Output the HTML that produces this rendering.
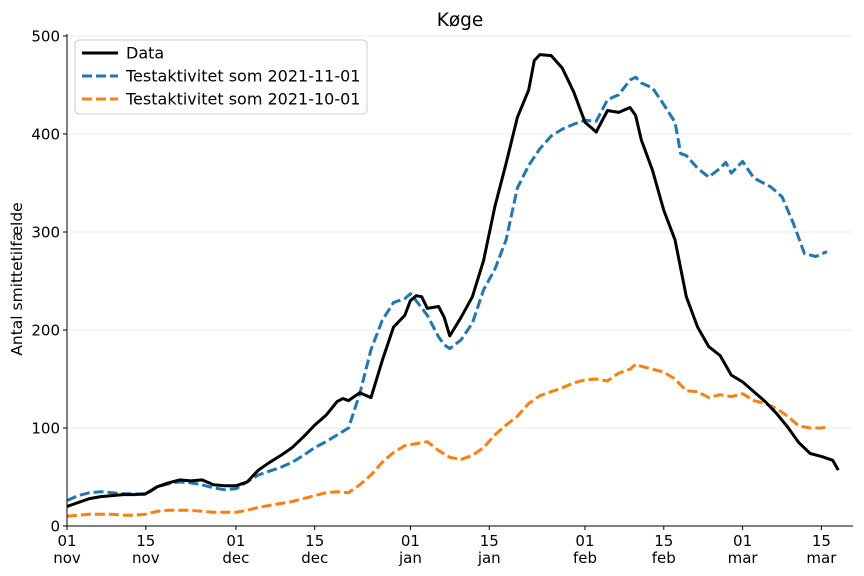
<!DOCTYPE html>
<html><head><meta charset="utf-8"><style>
html,body{margin:0;padding:0;background:#fff}
svg{display:block;font-family:"DejaVu Sans","Liberation Sans",sans-serif}
</style></head><body>
<svg id="chart" width="864" height="576" viewBox="0 0 864 576">
<g id="grid"></g>
<g id="series"></g>
<g id="axes"></g>
<text x="460" y="26" text-anchor="middle" font-size="18.5">Køge</text>
<text transform="translate(22,279) rotate(-90)" text-anchor="middle" font-size="15.5">Antal smittetilfælde</text>
<g>
<rect x="75" y="40" width="292" height="74" rx="4" fill="#fff" fill-opacity="0.8" stroke="#ccc"/>
<line x1="82" y1="53" x2="118" y2="53" stroke="#000" stroke-width="3"/>
<text x="126" y="58.5" font-size="16">Data</text>
<line x1="82" y1="76" x2="118" y2="76" stroke="#1f77b4" stroke-width="3" stroke-dasharray="10,4"/>
<text x="126" y="81.5" font-size="16">Testaktivitet som 2021-11-01</text>
<line x1="82" y1="99" x2="118" y2="99" stroke="#ff7f0e" stroke-width="3" stroke-dasharray="10,4"/>
<text x="126" y="104.5" font-size="16">Testaktivitet som 2021-10-01</text>
</g>
</svg>
<script>
const dataDays=[0,2,4,6,8,10,12,14,16,18,20,22,24,26,28,30,32,34,36,38,40,42,44,46,48,49,50,52,54,56,58,60,61,62,63,64,66,67,68,70,72,74,76,78,80,82,83,84,86,88,90,92,94,96,98,100,101,102,104,106,108,110,112,114,116,118,120,122,124,126,128,130,132,134,136,137];
const dataVals=[20,24,28,30,31,32,32,33,40,44,47,46,47,42,41,41,45,57,65,72,80,91,103,113,127,130,128,136,131,169,203,215,230,235,234,222,224,213,194,213,234,271,326,370,417,445,475,481,480,467,443,412,402,424,422,427,419,394,363,322,292,234,203,183,174,154,147,137,127,115,101,85,74,71,67,57];
const novDays=[0,2,4,6,8,10,12,14,16,18,20,22,24,26,28,30,32,34,36,38,40,42,44,46,48,50,52,54,56,58,60,61,62,64,66,67,68,70,72,74,76,78,80,82,84,86,88,90,92,94,96,98,100,101,102,104,106,108,109,110,112,114,116,117,118,120,122,125,127,129,131,133,135];
const novVals=[26,31,34,35,34,33,33,32,40,43,45,44,42,39,37,38,45,52,56,60,65,72,80,86,93,100,135,180,210,228,232,237,230,215,193,185,181,190,207,241,262,292,345,368,385,398,405,410,414,413,435,440,455,458,452,447,430,412,380,378,365,356,365,371,360,372,355,346,336,309,278,275,280];
const octDays=[0,2,4,6,8,10,12,14,16,18,20,22,24,26,28,30,32,34,36,38,40,42,44,46,48,50,52,54,56,58,60,62,64,66,68,70,72,74,76,78,80,82,84,86,88,90,92,94,96,98,100,101,102,104,106,108,110,112,114,116,118,120,122,124,126,128,130,132,134,135];
const octVals=[10,11,12,12,12,11,11,12,15,16,16,16,15,14,14,14,16,19,21,23,25,28,31,34,35,34,42,52,65,75,82,84,86,77,70,68,72,80,93,103,112,125,133,137,141,146,149,150,148,156,160,165,163,160,157,150,138,137,131,134,132,135,128,125,120,112,102,100,100,101];
const yTicks=[0,100,200,300,400,500];
const xTickDays=[0,14,30,44,61,75,92,106,120,134];
const xTickTop=["01","15","01","15","01","15","01","15","01","15"];
const xTickBot=["nov","nov","dec","dec","jan","jan","feb","feb","mar","mar"];

const L=67,R=853,T=36,B=526;
const xs=d=>L+d*5.63;
const ys=v=>B-(v/500)*(B-T);
const NS="http://www.w3.org/2000/svg";
function mk(tag,attrs,parent){const e=document.createElementNS(NS,tag);for(const k in attrs)e.setAttribute(k,attrs[k]);parent.appendChild(e);return e;}
const grid=document.getElementById('grid'),axes=document.getElementById('axes'),ser=document.getElementById('series');
yTicks.forEach(v=>{
  const g=mk('line',{x1:L,x2:R,y1:ys(v),y2:ys(v),stroke:'#ebebeb','stroke-width':1},grid);
  
  
  const t=mk('line',{x1:L-4,x2:L,y1:ys(v),y2:ys(v),stroke:'#000','stroke-width':1},axes);
  
  
  const tx=mk('text',{x:L-7,y:ys(v)+5.5,'text-anchor':'end','font-size':15},axes);
  tx.textContent=v;
  
  
});
xTickDays.forEach((d,i)=>{
  const t=mk('line',{x1:xs(d),x2:xs(d),y1:B,y2:B+4,stroke:'#000','stroke-width':1},axes);
  
  
  const a=mk('text',{x:xs(d),y:B+20,'text-anchor':'middle','font-size':15},axes);
  a.textContent=xTickTop[i];
  
  
  const b=mk('text',{x:xs(d),y:B+37,'text-anchor':'middle','font-size':15},axes);
  b.textContent=xTickBot[i];
  
  
});
const sl=mk('line',{x1:L,x2:L,y1:T-2,y2:B,stroke:'#000','stroke-width':1},axes);


const sb=mk('line',{x1:L,x2:R,y1:B,y2:B,stroke:'#000','stroke-width':1},axes);


function path(days,vals,color,dash,name){
  const d=days.map((x,i)=>(i?'L':'M')+xs(x).toFixed(1)+','+ys(vals[i]).toFixed(1)).join('');
  const p=mk('path',{d:d,fill:'none',stroke:color,'stroke-width':3,'stroke-linejoin':'round'},ser);
  if(dash)p.setAttribute('stroke-dasharray','10,4');
  
  
}
path(octDays,octVals,'#ff7f0e',true,'series-testaktivitet-2021-10-01');
path(novDays,novVals,'#1f77b4',true,'series-testaktivitet-2021-11-01');
path(dataDays,dataVals,'#000',false,'series-data');
</script>
</body></html>
